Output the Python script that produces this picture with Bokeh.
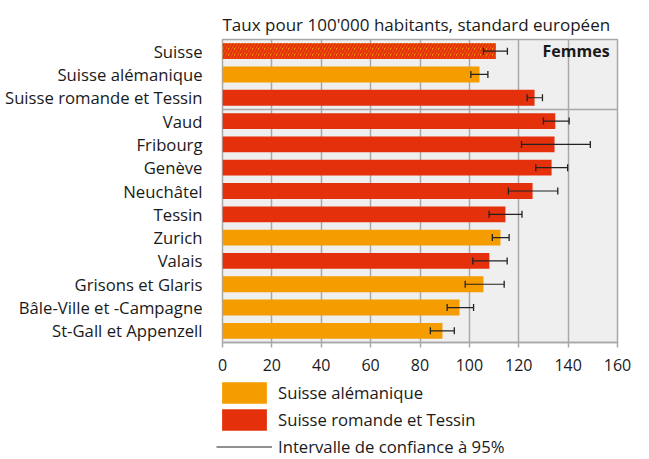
from bokeh.plotting import figure
from bokeh.layouts import column
from bokeh.models import (Range1d, FixedTicker, Span, Label, Legend, LegendItem, ColumnDataSource)
from bokeh.embed import file_html
from bokeh.resources import INLINE

categories = ["Suisse", "Suisse alémanique", "Suisse romande et Tessin", "Vaud", "Fribourg",
              "Genève", "Neuchâtel", "Tessin", "Zurich", "Valais", "Grisons et Glaris",
              "Bâle-Ville et -Campagne", "St-Gall et Appenzell"]
groups = ["CH", "DE", "FR", "FR", "FR", "FR", "FR", "FR", "DE", "FR", "DE", "DE", "DE"]
rates = [110.7, 104.1, 126.4, 134.8, 134.5, 133.3, 125.6, 114.6, 112.6, 108.1, 105.7, 96.0, 89.1]
ci_low = [105.7, 100.6, 123.4, 130.0, 121.1, 126.9, 115.8, 108.0, 109.3, 101.4, 98.3, 91.0, 84.2]
ci_high = [115.4, 107.5, 129.6, 140.4, 149.0, 139.8, 135.8, 121.3, 116.1, 115.3, 114.1, 101.7, 93.9]
x_ticks = [0, 20, 40, 60, 80, 100, 120, 140, 160]
legend_labels = ["Suisse alémanique", "Suisse romande et Tessin", "Intervalle de confiance à 95%"]

ORANGE = "#F59D00"
RED = "#E5300C"
GRID = "#A8A8A8"
INK = "#1a1a1a"
FONT = "Open Sans"

n = len(categories)
ypos = [n - i for i in range(n)]

def sub(key):
    idx = [i for i, g in enumerate(groups) if g == key]
    return ColumnDataSource(dict(y=[ypos[i] for i in idx], r=[rates[i] for i in idx]))

src_de, src_fr, src_ch = sub("DE"), sub("FR"), sub("CH")
ci_src = ColumnDataSource(dict(y=ypos, lo=ci_low, hi=ci_high))

p = figure(width=640, height=380, output_backend="svg", toolbar_location=None,
           x_range=Range1d(0, 160), y_range=Range1d(0.5, n + 0.5),
           min_border_left=222, min_border_right=23, min_border_top=39, min_border_bottom=38)

p.background_fill_color = "#EFEFEF"
p.border_fill_color = "white"
p.outline_line_color = GRID
p.outline_line_width = 1.5

p.hbar(y="y", right="r", left=0, height=0.68, source=src_de, fill_color=ORANGE, line_color=None)
p.hbar(y="y", right="r", left=0, height=0.68, source=src_fr, fill_color=RED, line_color=None)
p.hbar(y="y", right="r", left=0, height=0.68, source=src_ch, fill_color=ORANGE, line_color=None,
       hatch_pattern="/", hatch_color=RED, hatch_scale=6, hatch_weight=2.4)

p.segment(x0="lo", x1="hi", y0="y", y1="y", source=ci_src, line_color="#222222", line_width=1.2)
p.scatter(x="lo", y="y", source=ci_src, marker="dash", angle=1.5708, size=7, line_color="#222222", line_width=1.3)
p.scatter(x="hi", y="y", source=ci_src, marker="dash", angle=1.5708, size=7, line_color="#222222", line_width=1.3)

# separator between national/regional totals and cantons
p.add_layout(Span(location=n - 2.5, dimension="width", line_color=GRID, line_width=1.5))

p.xgrid.ticker = FixedTicker(ticks=x_ticks)
p.xgrid.grid_line_color = GRID
p.xgrid.grid_line_width = 1.5
p.ygrid.grid_line_color = None

xa = p.xaxis[0]
xa.ticker = FixedTicker(ticks=x_ticks)
xa.axis_line_color = GRID
xa.axis_line_width = 1.5
xa.major_tick_line_color = GRID
xa.major_tick_line_width = 1.5
xa.major_tick_in = 0
xa.major_tick_out = 5
xa.minor_tick_line_color = None
xa.major_label_text_font = FONT
xa.major_label_text_font_size = "16px"
xa.major_label_text_color = INK
xa.major_label_standoff = 11

ya = p.yaxis[0]
ya.ticker = FixedTicker(ticks=ypos)
ya.major_label_overrides = {y: c for y, c in zip(ypos, categories)}
ya.axis_line_color = None
ya.major_tick_line_color = None
ya.minor_tick_line_color = None
ya.major_label_text_font = FONT
ya.major_label_text_font_size = "16.7px"
ya.major_label_text_color = INK
ya.major_label_standoff = 14

p.title.text = "Taux pour 100'000 habitants, standard européen"
p.title.text_font = FONT
p.title.text_font_size = "17px"
p.title.text_font_style = "normal"
p.title.text_color = INK
p.title.align = "left"
p.title.offset = 0
p.title.standoff = 8

p.add_layout(Label(x=156.8, y=ypos[0], text="Femmes", text_font=FONT, text_font_size="16px",
                   text_font_style="bold", text_align="right", text_baseline="middle",
                   text_color=INK))

# legend panel below the chart; its renderers reuse the data but lie outside its view
lg = figure(width=640, height=79, output_backend="svg", toolbar_location=None,
            x_range=Range1d(-2, -1), y_range=Range1d(0.5, n + 0.5),
            x_axis_location=None, y_axis_location=None,
            min_border_left=0, min_border_right=0, min_border_top=0, min_border_bottom=0)
lg.frame_align = False
lg.outline_line_color = None
lg.background_fill_color = "white"
lg.border_fill_color = "white"
lg.xgrid.grid_line_color = None
lg.ygrid.grid_line_color = None
l_de = lg.hbar(y="y", right="r", left=0, height=0.68, source=src_de, fill_color=ORANGE, line_color=None)
l_fr = lg.hbar(y="y", right="r", left=0, height=0.68, source=src_fr, fill_color=RED, line_color=None)
l_ci = lg.segment(x0="lo", x1="hi", y0="y", y1="y", source=ci_src, line_color="#222222", line_width=1.2)

legend = Legend(items=[
    LegendItem(label=legend_labels[0], renderers=[l_de]),
    LegendItem(label=legend_labels[1], renderers=[l_fr]),
    LegendItem(label=legend_labels[2], renderers=[l_ci]),
], location=(216, -1), orientation="vertical")
legend.glyph_width = 56
legend.glyph_height = 27
legend.label_height = 27
legend.spacing = 0
legend.label_standoff = 6
legend.padding = 0
legend.margin = 0
legend.border_line_color = None
legend.background_fill_alpha = 0
legend.label_text_font = FONT
legend.label_text_font_size = "16.7px"
legend.label_text_color = INK
lg.add_layout(legend)

layout = column(p, lg, spacing=0)
open("out.html", "w").write(file_html(layout, INLINE))
